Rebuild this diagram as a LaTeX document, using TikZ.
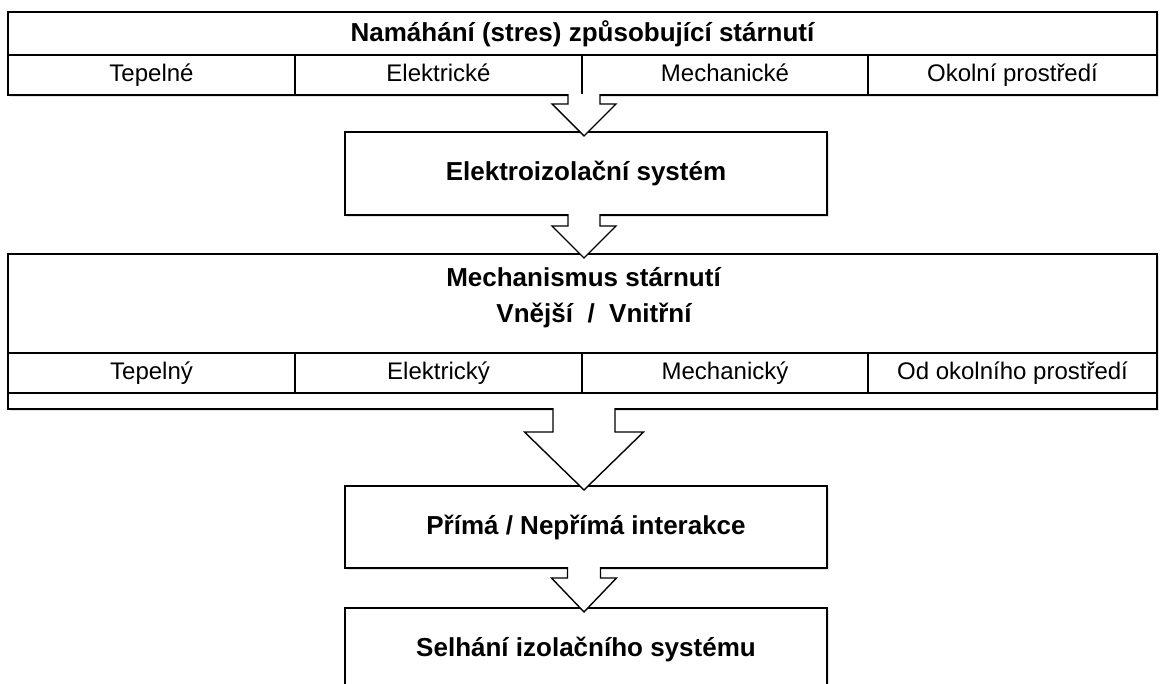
\documentclass[tikz,border=0pt]{standalone}
\usepackage{fontspec}
\setmainfont{Liberation Sans}
\usetikzlibrary{shadows,calc}
\newcommand\blockarr[5]{%
  \coordinate (bs) at (#1.south -| axis);
  \coordinate (bt0) at (#2.north -| axis);
  \coordinate (bt) at ([yshift=-4pt]bt0);
  \fill[white] ([xshift=-#3pt,yshift=1pt]bs) -- ([xshift=-#3pt,yshift=-#5pt]bs)
     -- ([xshift=-#4pt,yshift=-#5pt]bs) -- (bt) -- ([xshift=#4pt,yshift=-#5pt]bs)
     -- ([xshift=#3pt,yshift=-#5pt]bs) -- ([xshift=#3pt,yshift=1pt]bs) -- cycle;
  \draw[arr] ([xshift=-#3pt,yshift=0.8pt]bs) -- ([xshift=-#3pt,yshift=-#5pt]bs)
     -- ([xshift=-#4pt,yshift=-#5pt]bs) -- (bt) -- ([xshift=#4pt,yshift=-#5pt]bs)
     -- ([xshift=#3pt,yshift=-#5pt]bs) -- ([xshift=#3pt,yshift=0.8pt]bs);
}
\begin{document}
\begin{tikzpicture}[x=1pt,y=-1pt,
  frame/.style={draw, line width=1.6pt, fill=white, inner sep=0pt, outer sep=0pt,
    drop shadow={shadow xshift=2pt, shadow yshift=-2pt, opacity=0.22}},
  cell/.style={draw, line width=1.3pt, inner sep=0pt, outer sep=0pt, minimum height=40pt,
    text height=18pt, text depth=5pt, font=\fontsize{24}{28}\selectfont},
  heading/.style={font=\bfseries\fontsize{26}{31}\selectfont, inner sep=0pt},
  arr/.style={line width=1.4pt, line join=miter}]
\useasboundingbox (0,0) rectangle (1161,684);
\clip (0,0) rectangle (1161,684);
\coordinate (axis) at (584,0);

% top box
\node[frame, minimum width=1149pt, minimum height=83pt] (stress) at (582.5,53.5) {};
\node[heading] (stressT) at (582.5,33.5) {Namáhání (stres) způsobující stárnutí};
\node[cell, minimum width=287pt] (s1) at (151.5,75) {Tepelné};
\node[cell, minimum width=287pt] (s2) at (438.5,75) {Elektrické};
\node[cell, minimum width=286pt] (s3) at (725,75) {Mechanické};
\node[cell, minimum width=289pt] (s4) at (1012.5,75) {Okolní prostředí};

% insulation system
\node[frame, minimum width=482pt, minimum height=83pt, heading] (eis) at (586,173.5) {Elektroizolační systém};

% mechanism box
\node[frame, minimum width=1149pt, minimum height=155pt] (mech) at (582.5,331.5) {};
\node[heading, anchor=base] (mechT1) at (583.5,287) {Mechanismus stárnutí};
\node[heading, anchor=base] (mechT2) at (594,323) {Vnější\ \ /\ \ Vnitřní};
\node[cell, minimum width=287pt] (m1) at (151.5,373) {Tepelný};
\node[cell, minimum width=287pt] (m2) at (438.5,373) {Elektrický};
\node[cell, minimum width=286pt] (m3) at (725,373) {Mechanický};
\node[cell, minimum width=289pt] (m4) at (1012.5,373) {Od okolního prostředí};

% interaction
\node[frame, minimum width=482pt, minimum height=82pt, heading] (inter) at (586,527) {Přímá / Nepřímá interakce};

% failure (runs past the bottom edge)
\node[frame, minimum width=482pt, minimum height=112pt] (fail) at (586,664) {};
\node[heading] (failT) at (586,649) {Selhání izolačního systému};

% block arrows
\blockarr{stress}{eis}{16}{32}{9}
\blockarr{eis}{mech}{16}{32}{11}
\blockarr{mech}{inter}{31}{59.5}{23}
\blockarr{inter}{fail}{16.5}{32.5}{10}
\end{tikzpicture}
\end{document}
